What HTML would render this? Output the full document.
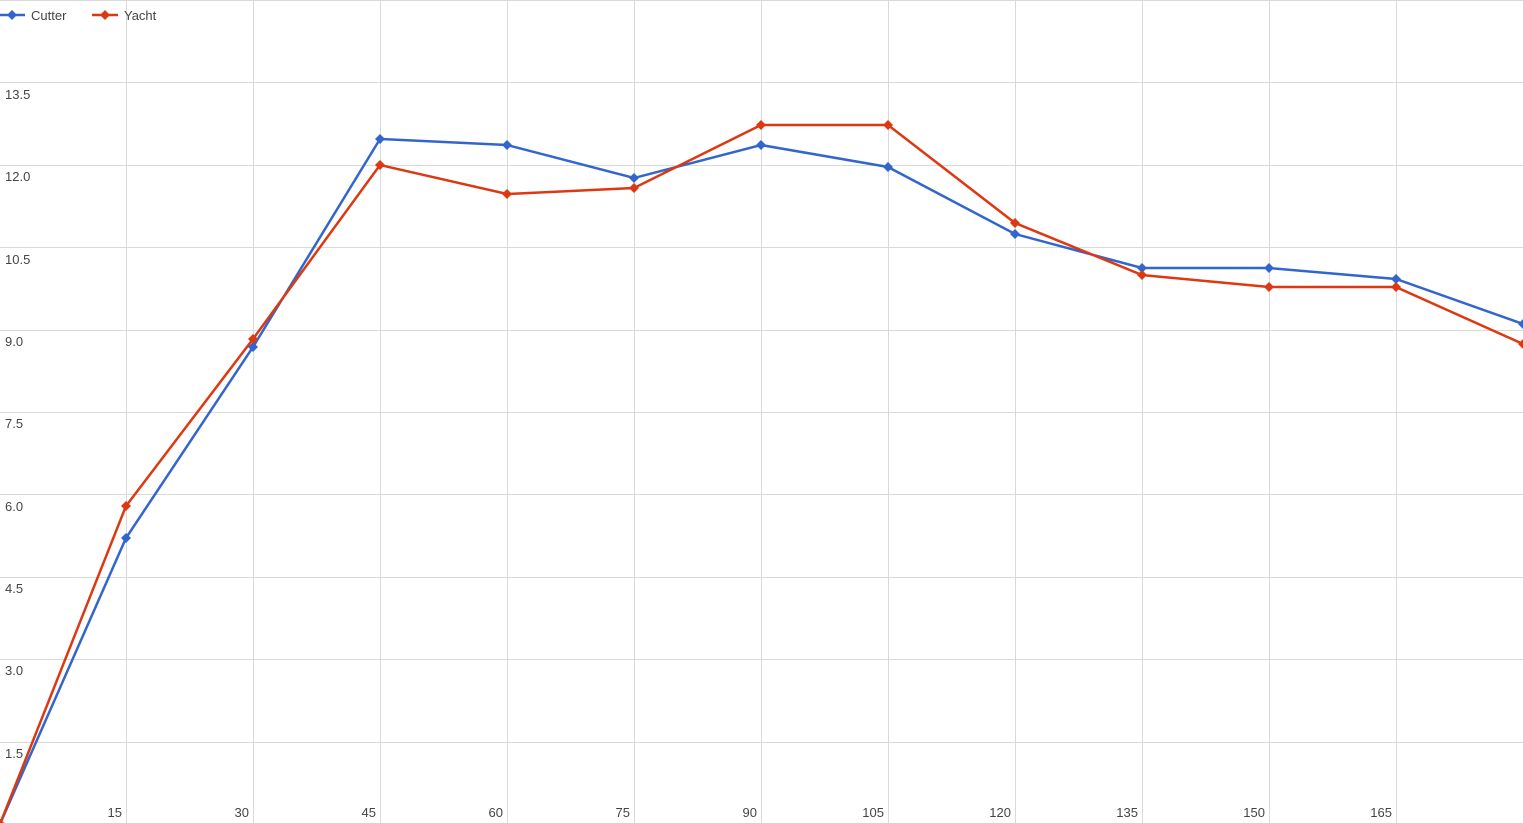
<!DOCTYPE html>
<html><head><style>body{margin:0;background:#fff}svg{display:block}text{font-family:"Liberation Sans",Arial,sans-serif;font-size:13px;fill:#444}</style></head><body>
<svg width="1523" height="823" xmlns="http://www.w3.org/2000/svg">
<g stroke="#d9d9d9" stroke-width="1">
<line x1="0" y1="0.5" x2="1523" y2="0.5"/>
<line x1="0" y1="82.5" x2="1523" y2="82.5"/><line x1="0" y1="165.5" x2="1523" y2="165.5"/><line x1="0" y1="247.5" x2="1523" y2="247.5"/><line x1="0" y1="330.5" x2="1523" y2="330.5"/><line x1="0" y1="412.5" x2="1523" y2="412.5"/><line x1="0" y1="494.5" x2="1523" y2="494.5"/><line x1="0" y1="577.5" x2="1523" y2="577.5"/><line x1="0" y1="659.5" x2="1523" y2="659.5"/><line x1="0" y1="742.5" x2="1523" y2="742.5"/>
<line x1="126.5" y1="0" x2="126.5" y2="823"/><line x1="253.5" y1="0" x2="253.5" y2="823"/><line x1="380.5" y1="0" x2="380.5" y2="823"/><line x1="507.5" y1="0" x2="507.5" y2="823"/><line x1="634.5" y1="0" x2="634.5" y2="823"/><line x1="761.5" y1="0" x2="761.5" y2="823"/><line x1="888.5" y1="0" x2="888.5" y2="823"/><line x1="1015.5" y1="0" x2="1015.5" y2="823"/><line x1="1142.5" y1="0" x2="1142.5" y2="823"/><line x1="1269.5" y1="0" x2="1269.5" y2="823"/><line x1="1396.5" y1="0" x2="1396.5" y2="823"/>
</g>
<g>
<text x="5" y="99">13.5</text><text x="5" y="181">12.0</text><text x="5" y="264">10.5</text><text x="5" y="346">9.0</text><text x="5" y="428">7.5</text><text x="5" y="511">6.0</text><text x="5" y="593">4.5</text><text x="5" y="675">3.0</text><text x="5" y="758">1.5</text>
</g>
<g text-anchor="end">
<text x="122" y="817">15</text><text x="249" y="817">30</text><text x="376" y="817">45</text><text x="503" y="817">60</text><text x="630" y="817">75</text><text x="757" y="817">90</text><text x="884" y="817">105</text><text x="1011" y="817">120</text><text x="1138" y="817">135</text><text x="1265" y="817">150</text><text x="1392" y="817">165</text>
</g>
<defs>
<path id="db" d="M0,-5L5,0L0,5L-5,0Z" fill="#3366cc"/>
<path id="dr" d="M0,-5L5,0L0,5L-5,0Z" fill="#dc3912"/>
</defs>
<polyline fill="none" stroke="#3366cc" stroke-width="2.5" points="0,824 126,538 253,347 380,139 507,145 634,178 761,145 888,167 1015,234 1142,268 1269,268 1396,279 1523,324"/>
<polyline fill="none" stroke="#dc3912" stroke-width="2.5" points="0,824 126,506 253,339 380,165 507,194 634,188 761,125 888,125 1015,223 1142,275 1269,287 1396,287 1523,344"/>
<g>
<use href="#db" x="0" y="824"/><use href="#db" x="126" y="538"/><use href="#db" x="253" y="347"/><use href="#db" x="380" y="139"/><use href="#db" x="507" y="145"/><use href="#db" x="634" y="178"/><use href="#db" x="761" y="145"/><use href="#db" x="888" y="167"/><use href="#db" x="1015" y="234"/><use href="#db" x="1142" y="268"/><use href="#db" x="1269" y="268"/><use href="#db" x="1396" y="279"/><use href="#db" x="1523" y="324"/>
<use href="#dr" x="0" y="824"/><use href="#dr" x="126" y="506"/><use href="#dr" x="253" y="339"/><use href="#dr" x="380" y="165"/><use href="#dr" x="507" y="194"/><use href="#dr" x="634" y="188"/><use href="#dr" x="761" y="125"/><use href="#dr" x="888" y="125"/><use href="#dr" x="1015" y="223"/><use href="#dr" x="1142" y="275"/><use href="#dr" x="1269" y="287"/><use href="#dr" x="1396" y="287"/><use href="#dr" x="1523" y="344"/>
</g>
<line x1="0" y1="15" x2="25" y2="15" stroke="#3366cc" stroke-width="2.5"/><use href="#db" x="12" y="15"/>
<text x="31" y="20">Cutter</text>
<line x1="92" y1="15" x2="118" y2="15" stroke="#dc3912" stroke-width="2.5"/><use href="#dr" x="105" y="15"/>
<text x="124" y="20">Yacht</text>
</svg>
</body></html>
